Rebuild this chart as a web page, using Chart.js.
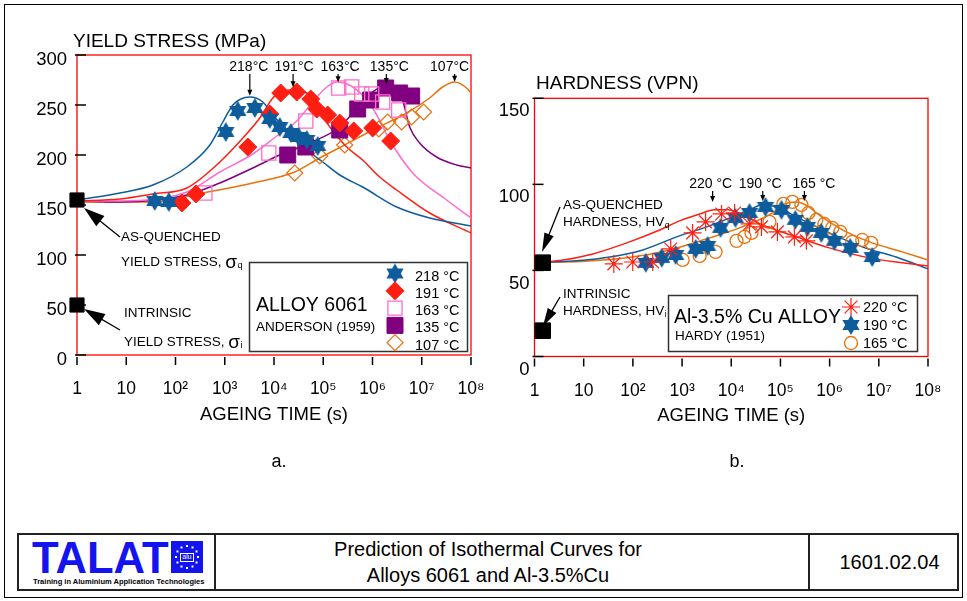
<!DOCTYPE html>
<html><head><meta charset="utf-8">
<script src="https://cdn.jsdelivr.net/npm/chart.js@4.4.1/dist/chart.umd.min.js"></script>
<style>
html,body{margin:0;padding:0;background:#fff;}
#page{position:relative;width:967px;height:601px;overflow:hidden;background:#fff;font-family:"Liberation Sans",Arial,Helvetica,sans-serif;}
#c1{position:absolute;left:0;top:0;}
#c2{position:absolute;left:490px;top:0;}
#frame{position:absolute;left:4px;top:4px;width:959px;height:594px;border:1px solid #000;box-sizing:border-box;}
#footer{position:absolute;left:17px;top:533px;width:942px;height:58px;border:2px solid #222;box-sizing:border-box;}
#footer .cell{position:absolute;top:0;height:54px;box-sizing:border-box;}
#logo{left:0;width:197px;border-right:2px solid #222;}
#ftitle{left:197px;width:594px;border-right:2px solid #222;text-align:center;font-size:20px;line-height:26px;padding-top:1px;padding-right:48px;color:#000;white-space:nowrap;}
#fnum{left:791px;width:147px;text-align:center;font-size:20px;line-height:55px;padding-left:12px;color:#000;}
#talat{position:absolute;left:13px;top:-3px;font-size:45px;font-weight:bold;color:#1414f0;transform:scaleX(0.97);transform-origin:left top;}
#eu{position:absolute;left:152px;top:6px;}
#tag{position:absolute;left:14px;top:42px;font-size:8px;font-weight:bold;color:#000;white-space:nowrap;transform:scaleX(0.94);transform-origin:left top;}
</style></head>
<body><div id="page">
<div id="frame"></div>
<canvas id="c1" width="500" height="480" style="width:500px;height:480px"></canvas>
<canvas id="c2" width="477" height="480" style="width:477px;height:480px"></canvas>
<div id="footer">
  <div class="cell" id="logo"><div id="talat">TALAT</div><canvas id="eu" width="32" height="32"></canvas><div id="tag">Training in Aluminium Application Technologies</div></div>
  <div class="cell" id="ftitle">Prediction of Isothermal Curves for<br>Alloys 6061 and Al-3.5%Cu</div>
  <div class="cell" id="fnum">1601.02.04</div>
</div>
</div>
<script>
// ---------------- DATA ----------------
const xTickValues = [1, 10, 100, 1e3, 1e4, 1e5, 1e6, 1e7, 1e8];
const xTickLabels = ['1', '10', '10²', '10³', '10⁴', '10⁵', '10⁶', '10⁷', '10⁸'];

// a. Alloy 6061, Anderson (1959): yield stress (MPa) vs ageing time (s)
const a218_t = [38, 73, 1050, 1840, 4080, 8220, 13100, 21900, 31800, 46300, 77300];
const a218_v = [154, 153, 223, 244, 247, 236, 228, 222, 218, 215, 209];
const a191_t = [135, 259, 2940, 8220, 13700, 29000, 55700, 73800, 123000, 216000, 416000, 1010000, 2340000];
const a191_v = [152, 161, 208, 241, 262, 263, 256, 246, 240, 232, 224, 227, 214];
const a163_t = [395, 7850, 44200, 206000, 378000, 604000, 964000, 1610000, 3400000];
const a163_v = [162, 202, 234, 267, 268, 261, 261, 253, 245];
const a135_t = [19000, 44200, 216000, 501000, 919000, 1850000, 3560000, 6240000];
const a135_v = [200, 208, 225, 246, 255, 267, 262, 259];
const a107_t = [26400, 84900, 273000, 1340000, 2030000, 3910000, 6240000, 10900000];
const a107_v = [182, 199, 210, 226, 233, 233, 238, 243];
// predicted curves
const aC218_t = [1, 7.45, 34.8, 170, 499, 915, 1460, 2120, 3230, 5930, 9460, 20900, 53200, 97700, 216000, 632000, 3100000, 14500000, 1e8];
const aC218_v = [155, 162, 170, 188, 210, 233, 250, 256, 258, 253, 240, 222, 203, 193, 180, 168, 148, 137, 129];
const aC191_t = [1, 7.45, 34.8, 170, 796, 2330, 5150, 9460, 15100, 24000, 46200, 73800, 136000, 300000, 632000, 1400000, 3100000, 14500000, 1e8];
const aC191_v = [154, 156, 161, 167, 193, 217, 237, 257, 264, 265, 262, 248, 228, 208, 195, 178, 165, 142, 122];
const aC163_t = [1, 7.45, 170, 796, 3715, 11400, 29000, 61200, 118000, 188000, 397000, 763000, 1220000, 2230000, 6540000, 32000000, 1e8];
const aC163_v = [154, 154, 163, 183, 201, 219, 234, 253, 268, 273, 268, 255, 240, 215, 182, 155, 137];
const aC135_t = [1, 7.45, 170, 796, 3715, 13100, 53200, 216000, 550000, 1010000, 1940000, 4100000, 5690000, 9060000, 20000000, 51000000, 1e8];
const aC135_v = [154, 153, 160, 172, 187, 200, 212, 228, 250, 263, 270, 254, 228, 212, 198, 190, 187];
const aC107_t = [1, 34.8, 359, 3715, 26400, 84900, 273000, 1010000, 4940000, 14500000, 26500000, 46500000, 81500000, 1e8];
const aC107_v = [153, 153, 162, 172, 183, 197, 210, 225, 242, 257, 268, 273, 267, 262];
const aQuench_t = [1, 1];
const aQuench_v = [155, 50];   // as-quenched and intrinsic yield stress

// b. Al-3.5%Cu, Hardy (1951): hardness (VPN) vs ageing time (s)
const b220_t = [41, 99.5, 253, 588, 1640, 3010, 6360, 11700, 23500, 41200, 86900, 192000, 337000];
const b220_v = [53.8, 54.9, 54.9, 62.5, 71.8, 78.2, 82.8, 83.4, 77.0, 75.3, 72.4, 69.5, 67.2];
const b190_t = [183, 386, 741, 1890, 3300, 6060, 12200, 23500, 49600, 105000, 201000, 353000, 679000, 1250000, 2630000, 7350000];
const b190_v = [54.4, 57.3, 59.0, 62.5, 64.2, 74.7, 80.5, 83.4, 86.9, 85.2, 79.4, 75.3, 71.8, 67.2, 63.1, 57.8];
const b165_t = [1030, 2280, 4800, 12800, 18600, 25800, 59800, 115000, 175000, 267000, 370000, 537000, 780000, 1130000, 1650000, 2890000, 4600000, 7010000];
const b165_v = [56.1, 58.4, 60.8, 67.2, 69.5, 71.8, 78.2, 88.7, 89.8, 88.1, 83.4, 79.4, 77.0, 74.7, 72.4, 66.6, 67.7, 66.0];
const bC220_t = [1, 3.29, 15.4, 75.2, 352, 893, 2280, 4580, 8410, 18600, 43100, 211000, 986000, 6380000, 1e8];
const bC220_v = [54.9, 55.8, 59.6, 66.0, 73.5, 78.8, 82.8, 85.2, 85.2, 81.7, 76.5, 69.5, 63.1, 57.3, 52.6];
const bC190_t = [1, 3.29, 34, 159, 777, 3160, 10600, 23500, 43100, 95500, 211000, 986000, 4600000, 22500000, 1e8];
const bC190_v = [54.9, 55.1, 57.8, 61.9, 69.5, 75.3, 81.1, 85.2, 88.1, 86.3, 81.1, 71.8, 63.7, 57.8, 50.9];
const bC165_t = [1, 3.29, 75.2, 561, 3630, 14700, 68900, 110000, 211000, 353000, 537000, 986000, 2180000, 7350000, 29900000, 1e8];
const bC165_v = [54.9, 54.9, 57.3, 61.9, 68.9, 74.7, 83.4, 88.1, 89.8, 87.5, 83.4, 78.2, 72.4, 66.0, 60.8, 56.1];
const bQuench_t = [1.47, 1.47];
const bQuench_v = [54.5, 15];  // as-quenched and intrinsic hardness

// ---------------- STYLE HELPERS ----------------
const FONT = '"Liberation Sans", Arial, Helvetica, sans-serif';
const BLUE = '#0f5c9c', RED = '#ff1f12', PINK = '#ff6ccb', PURPLE = '#800080', ORANGE = '#e8720c';

function hexStar(color, r) {
  const s = Math.ceil(2 * r + 2);
  const c = document.createElement('canvas'); c.width = s; c.height = s;
  const g = c.getContext('2d'); g.fillStyle = color;
  for (const off of [-Math.PI / 2, Math.PI / 2]) {
    g.beginPath();
    for (let i = 0; i < 3; i++) { const a = off + i * 2 * Math.PI / 3; g.lineTo(s / 2 + r * Math.cos(a), s / 2 + r * Math.sin(a)); }
    g.closePath(); g.fill();
  }
  return c;
}
const starL = hexStar(BLUE, 10);
const starR = hexStar(BLUE, 10);

const pts = (ts, vs) => ts.map((t, i) => ({ x: t, y: vs[i] }));
function marks(label, ts, vs, style, r, fill, stroke, bw) {
  return { type: 'scatter', label, data: pts(ts, vs), pointStyle: style, pointRadius: r, pointHoverRadius: r,
    backgroundColor: fill, borderColor: stroke, borderWidth: bw, pointBorderWidth: bw, showLine: false, order: 1, clip: false };
}
function curve(label, ts, vs, color) {
  return { type: 'line', label, data: pts(ts, vs), borderColor: color, backgroundColor: color, borderWidth: 1.5,
    pointRadius: 0, fill: false, cubicInterpolationMode: 'monotone', order: 2 };
}
function drawMarker(ctx, ds, x, y) {
  const st = ds.pointStyle, r = ds.pointRadius;
  ctx.save();
  if (st instanceof HTMLCanvasElement) { ctx.drawImage(st, x - st.width / 2, y - st.height / 2); ctx.restore(); return; }
  ctx.fillStyle = ds.backgroundColor; ctx.strokeStyle = ds.borderColor; ctx.lineWidth = ds.borderWidth;
  ctx.beginPath();
  if (st === 'circle') ctx.arc(x, y, r, 0, 2 * Math.PI);
  else if (st === 'rect') { const h = r * Math.SQRT1_2; ctx.rect(x - h, y - h, 2 * h, 2 * h); }
  else if (st === 'rectRot') { ctx.moveTo(x, y - r); ctx.lineTo(x + r, y); ctx.lineTo(x, y + r); ctx.lineTo(x - r, y); ctx.closePath(); }
  else if (st === 'star') { for (let k = 0; k < 4; k++) { const a = k * Math.PI / 4; ctx.moveTo(x + r * Math.cos(a), y + r * Math.sin(a)); ctx.lineTo(x - r * Math.cos(a), y - r * Math.sin(a)); } }
  if (st !== 'star') ctx.fill();
  ctx.stroke(); ctx.restore();
}
function arrow(ctx, x1, y1, x2, y2, hl, hw, lw) {
  const a = Math.atan2(y2 - y1, x2 - x1), c = Math.cos(a), s = Math.sin(a);
  ctx.lineWidth = lw;
  ctx.beginPath(); ctx.moveTo(x1, y1); ctx.lineTo(x2 - c * hl * 0.7, y2 - s * hl * 0.7); ctx.stroke();
  ctx.beginPath(); ctx.moveTo(x2, y2);
  ctx.lineTo(x2 - hl * c + hw / 2 * s, y2 - hl * s - hw / 2 * c);
  ctx.lineTo(x2 - hl * c - hw / 2 * s, y2 - hl * s + hw / 2 * c);
  ctx.closePath(); ctx.fill();
}
function txt(ctx, s, x, y, size, align, extra) {
  ctx.font = (extra || '') + size + 'px ' + FONT; ctx.textAlign = align || 'left'; ctx.textBaseline = 'middle';
  ctx.fillText(s, x, y);
  return ctx.measureText(s).width;
}
// text with a large sigma/subscript suffix
function labelSub(ctx, base, big, sub, x, y, size, bigSize, subSize, subDy) {
  const w = txt(ctx, base, x, y, size);
  let w2 = 0;
  if (big) w2 = txt(ctx, big, x + w, y + 1, bigSize);
  txt(ctx, sub, x + w + w2 + 0.5, y + subDy, subSize);
}
function frameAndTicks(chart) {
  const { ctx, chartArea: ca, scales: { x, y } } = chart;
  ctx.save();
  ctx.strokeStyle = '#ff0000'; ctx.lineWidth = 1.3;
  ctx.strokeRect(ca.left, ca.top, ca.right - ca.left, ca.bottom - ca.top);
  ctx.strokeStyle = '#000'; ctx.lineWidth = 1.5;
  y.ticks.forEach(t => { const py = y.getPixelForValue(t.value); ctx.beginPath(); ctx.moveTo(ca.left - 2, py); ctx.lineTo(ca.left + 9, py); ctx.stroke(); });
  x.ticks.forEach(t => { const px = x.getPixelForValue(t.value); ctx.beginPath(); ctx.moveTo(px, ca.bottom + 2); ctx.lineTo(px, ca.bottom + 10); ctx.stroke(); });
  ctx.restore();
}
function peakArrow(chart, text, t, v, dx, labelY, size) {
  const { ctx, scales: { x, y } } = chart;
  const px = x.getPixelForValue(t), py = y.getPixelForValue(v);
  ctx.fillStyle = '#000'; ctx.strokeStyle = '#000';
  txt(ctx, text, px + dx, labelY, size, 'center');
  arrow(ctx, px, labelY + 7, px, py - 1, 6, 5, 1.2);
}

// ---------------- CHART A ----------------
const OX1 = 0, OX2 = 490;
const annA = {
  id: 'annA',
  beforeDatasetsDraw: frameAndTicks,
  afterDatasetsDraw(chart) {
    const ctx = chart.ctx; const o = OX1;
    ctx.save(); ctx.fillStyle = '#000'; ctx.strokeStyle = '#000';
    txt(ctx, 'YIELD STRESS (MPa)', 73 - o, 42, 19);
    txt(ctx, 'a.', 279 - o, 462, 18, 'center');
    // peak labels
    peakArrow(chart, '218°C', 3230, 258.3, -1, 67, 14);
    peakArrow(chart, '191°C', 24400, 266.7, 1, 67, 14);
    peakArrow(chart, '163°C', 200000, 271.7, 2, 67, 14);
    peakArrow(chart, '135°C', 1910000, 270, 3, 67, 14);
    peakArrow(chart, '107°C', 46500000, 272.3, -5, 67, 14);
    // as-quenched / intrinsic notes
    ctx.fillStyle = '#000';
    arrow(ctx, 120 - o, 237, 84 - o, 208, 21, 13, 1.3);
    arrow(ctx, 120 - o, 330, 84 - o, 309, 21, 13, 1.3);
    txt(ctx, 'AS-QUENCHED', 121 - o, 237, 13.5);
    labelSub(ctx, 'YIELD STRESS, ', 'σ', 'q', 121 - o, 262, 13.5, 19, 9, 4);
    txt(ctx, 'INTRINSIC', 124 - o, 313, 13.5);
    labelSub(ctx, 'YIELD STRESS, ', 'σ', 'i', 124 - o, 342, 13.5, 19, 9, 4);
    // legend box
    ctx.fillStyle = '#fff'; ctx.fillRect(249.5 - o, 262.5, 218, 89);
    ctx.strokeStyle = '#333'; ctx.lineWidth = 1.5; ctx.strokeRect(249.5 - o, 262.5, 218, 89);
    ctx.fillStyle = '#000';
    txt(ctx, 'ALLOY 6061', 256 - o, 306, 19.5);
    txt(ctx, 'ANDERSON (1959)', 256 - o, 327, 13.5);
    const ds = chart.data.datasets;
    const leg = [[0, '218 °C'], [1, '191 °C'], [2, '163 °C'], [3, '135 °C'], [4, '107 °C']];
    leg.forEach(([i, s], k) => {
      const yy = 273.5 + k * 17.3;
      drawMarker(ctx, ds[i], 395 - o, yy);
      ctx.fillStyle = '#000'; txt(ctx, s, 415 - o, yy + 3, 14.5);
    });
    ctx.restore();
  }
};

// x axis: label distance set by an (invisible) tick length, so that it does not widen the side padding
const commonX = () => ({
  type: 'logarithmic', min: 1, max: 1e8,
  afterBuildTicks: s => { s.ticks = xTickValues.map(v => ({ value: v })); },
  afterFit: s => { s.height = 75; },
  grid: { display: false, drawTicks: true, tickLength: 24 },
  border: { display: false },
  ticks: { autoSkip: false, maxRotation: 0, padding: 0, color: '#000', font: { family: FONT, size: 17.5 },
    callback: (v, i) => xTickLabels[i] },
  title: { display: true, text: 'AGEING TIME (s)', color: '#000', font: { family: FONT, size: 18.5 }, padding: { top: 0, bottom: 4 } }
});

new Chart(document.getElementById('c1'), {
  type: 'scatter',
  data: { datasets: [
    marks('218 °C', a218_t, a218_v, starL, 10, BLUE, BLUE, 0),
    marks('191 °C', a191_t, a191_v, 'rectRot', 9, RED, RED, 1),
    marks('163 °C', a163_t, a163_v, 'rect', 10, 'rgba(0,0,0,0)', PINK, 1.3),
    marks('135 °C', a135_t, a135_v, 'rect', 11.3, PURPLE, PURPLE, 1),
    marks('107 °C', a107_t, a107_v, 'rectRot', 8, 'rgba(0,0,0,0)', ORANGE, 1.2),
    marks('quench', aQuench_t, aQuench_v, 'rect', 10, '#000', '#000', 1),
    curve('218 fit', aC218_t, aC218_v, BLUE),
    curve('191 fit', aC191_t, aC191_v, RED),
    curve('163 fit', aC163_t, aC163_v, PINK),
    curve('135 fit', aC135_t, aC135_v, PURPLE),
    curve('107 fit', aC107_t, aC107_v, ORANGE)
  ] },
  options: {
    responsive: false, animation: false, devicePixelRatio: 1,
    layout: { padding: { left: 0, right: 29, top: 55, bottom: 50 } },
    plugins: { legend: { display: false }, tooltip: { enabled: false } },
    scales: {
      x: commonX(),
      y: { type: 'linear', min: 0, max: 300, afterFit: s => { s.width = 77; },
        grid: { display: false, drawTicks: false }, border: { display: false },
        ticks: { stepSize: 50, padding: 10, labelOffset: 5, color: '#000', font: { family: FONT, size: 18.5 } } }
    }
  },
  plugins: [annA]
});

// ---------------- CHART B ----------------
const annB = {
  id: 'annB',
  beforeDatasetsDraw: frameAndTicks,
  afterDatasetsDraw(chart) {
    const ctx = chart.ctx; const o = OX2;
    ctx.save(); ctx.fillStyle = '#000'; ctx.strokeStyle = '#000';
    txt(ctx, 'HARDNESS (VPN)', 536 - o, 84, 19);
    txt(ctx, 'b.', 737 - o, 462, 18, 'center');
    peakArrow(chart, '220 °C', 4180, 89.2, -2, 184, 14);
    peakArrow(chart, '190 °C', 43700, 89.8, -2.5, 184, 14);
    peakArrow(chart, '165 °C', 307000, 89.8, 9.5, 184, 14);
    ctx.fillStyle = '#000';
    arrow(ctx, 560 - o, 207, 542 - o, 252, 19, 10, 1.3);
    arrow(ctx, 560 - o, 297, 543 - o, 326, 18, 10, 1.3);
    txt(ctx, 'AS-QUENCHED', 563 - o, 205, 13.5);
    labelSub(ctx, 'HARDNESS, HV', '', 'q', 563 - o, 222, 13.5, 13.5, 8.5, 4);
    txt(ctx, 'INTRINSIC', 563 - o, 294, 13.5);
    labelSub(ctx, 'HARDNESS, HV', '', 'i', 563 - o, 311, 13.5, 13.5, 8.5, 4);
    ctx.fillStyle = '#fff'; ctx.fillRect(668.5 - o, 295.5, 249, 56);
    ctx.strokeStyle = '#333'; ctx.lineWidth = 1.5; ctx.strokeRect(668.5 - o, 295.5, 249, 56);
    ctx.fillStyle = '#000';
    txt(ctx, 'Al-3.5% Cu ALLOY', 674 - o, 318, 19.5);
    txt(ctx, 'HARDY (1951)', 675 - o, 336, 13.5);
    const ds = chart.data.datasets;
    const leg = [[0, '220 °C'], [1, '190 °C'], [2, '165 °C']];
    leg.forEach(([i, s], k) => {
      const yy = 307 + k * 18;
      drawMarker(ctx, ds[i], 851 - o, yy);
      ctx.fillStyle = '#000'; txt(ctx, s, 863 - o, yy + 1, 14.5);
    });
    ctx.restore();
  }
};

new Chart(document.getElementById('c2'), {
  type: 'scatter',
  data: { datasets: [
    marks('220 °C', b220_t, b220_v, 'star', 9, RED, RED, 1.2),
    marks('190 °C', b190_t, b190_v, starR, 10, BLUE, BLUE, 0),
    marks('165 °C', b165_t, b165_v, 'circle', 6.5, 'rgba(0,0,0,0)', ORANGE, 1.3),
    marks('quench', bQuench_t, bQuench_v, 'rect', 11, '#000', '#000', 1),
    curve('220 fit', bC220_t, bC220_v, RED),
    curve('190 fit', bC190_t, bC190_v, BLUE),
    curve('165 fit', bC165_t, bC165_v, ORANGE)
  ] },
  options: {
    responsive: false, animation: false, devicePixelRatio: 1,
    layout: { padding: { left: 0, right: 39, top: 98.3, bottom: 48.5 } },
    plugins: { legend: { display: false }, tooltip: { enabled: false } },
    scales: {
      x: commonX(),
      y: { type: 'linear', min: 0, max: 150, afterFit: s => { s.width = 44.5; },
        grid: { display: false, drawTicks: false }, border: { display: false },
        ticks: { stepSize: 50, padding: 5, labelOffset: 13, color: '#000', font: { family: FONT, size: 18.5 } } }
    }
  },
  plugins: [annB]
});

// small EU-style emblem of the logo
(function () {
  const g = document.getElementById('eu').getContext('2d');
  g.fillStyle = '#1414f0'; g.fillRect(0, 0, 32, 32);
  g.fillStyle = '#fff';
  for (let i = 0; i < 12; i++) { const a = i * Math.PI / 6; g.fillRect(16 + 11 * Math.cos(a) - 1, 16 + 11 * Math.sin(a) - 1, 2, 2); }
  g.strokeStyle = '#fff'; g.lineWidth = 1; g.strokeRect(9.5, 12.5, 13, 8);
  g.font = '7px ' + FONT; g.textAlign = 'center'; g.textBaseline = 'middle'; g.fillText('alu', 16, 16.5);
})();
</script>
</body></html>
